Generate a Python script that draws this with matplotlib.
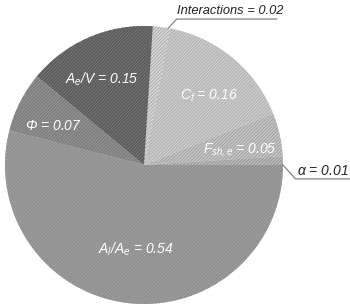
import matplotlib.pyplot as plt

plt.rcParams['font.family'] = ['Liberation Sans', 'DejaVu Sans']
plt.rcParams['mathtext.fontset'] = 'custom'
plt.rcParams['mathtext.rm'] = 'Liberation Sans:italic'
plt.rcParams['mathtext.it'] = 'Liberation Sans:italic'
plt.rcParams['hatch.linewidth'] = 0.8

# Sensitivity shares, counterclockwise from 0 degrees
names = [r'$\alpha$', r'$F_{sh,e}$', r'$C_f$', 'Interactions', r'$A_e/V$', r'$\Phi$', r'$A_l/A_e$']
values = [0.01, 0.05, 0.16, 0.02, 0.15, 0.07, 0.54]
face_colors = ['#9a9a9a', '#a6a6a6', '#b4b4b4', '#dadada', '#585858', '#7a7a7a', '#8c8c8c']
hatch_colors = ['#c0c0c0', '#cacaca', '#d0d0d0', '#b0b0b0', '#747474', '#949494', '#a0a0a0']

fig = plt.figure(figsize=(3.5, 3.07), dpi=100)
ax = fig.add_axes([0, 0, 1, 1])

wedges, _ = ax.pie(values, startangle=0, counterclock=True, radius=1.0)
for w, fc, hc in zip(wedges, face_colors, hatch_colors):
    w.set_facecolor(fc)
    w.set_edgecolor(hc)
    w.set_linewidth(0)
    w.set_hatch('//////////')

# pie centre sits at (144, 165) px, radius 139 px
ax.set_xlim(-144 / 139, (350 - 144) / 139)
ax.set_ylim(-(307 - 165) / 139, 165 / 139)
ax.axis('off')

inside = {
    4: (-0.30, 0.62),
    5: (-0.65, 0.28),
    2: (0.47, 0.50),
    1: (0.69, 0.11),
    6: (-0.06, -0.61),
}
for i, (x, y) in inside.items():
    ax.text(x, y, f'{names[i]} = {values[i]:.2f}', color='white', fontsize=10,
            style='italic', ha='center', va='center')

# outside labels with leader lines
ax.text(0.24, 1.065, f'Interactions = {values[3]:.2f}', color='#222222', fontsize=9.3,
        style='italic', ha='left', va='bottom')
ax.plot([0.175, 0.235, 0.955], [0.985, 1.05, 1.05], color='#777777', lw=0.8)
ax.text(1.10, -0.09, f'{names[0]} = {values[0]:.2f}', color='#222222', fontsize=10,
        style='italic', ha='left', va='bottom')
ax.plot([1.0, 1.09, 1.49], [0.0, -0.10, -0.10], color='#777777', lw=0.8)

fig.savefig('out.png', dpi=100, facecolor='white')
